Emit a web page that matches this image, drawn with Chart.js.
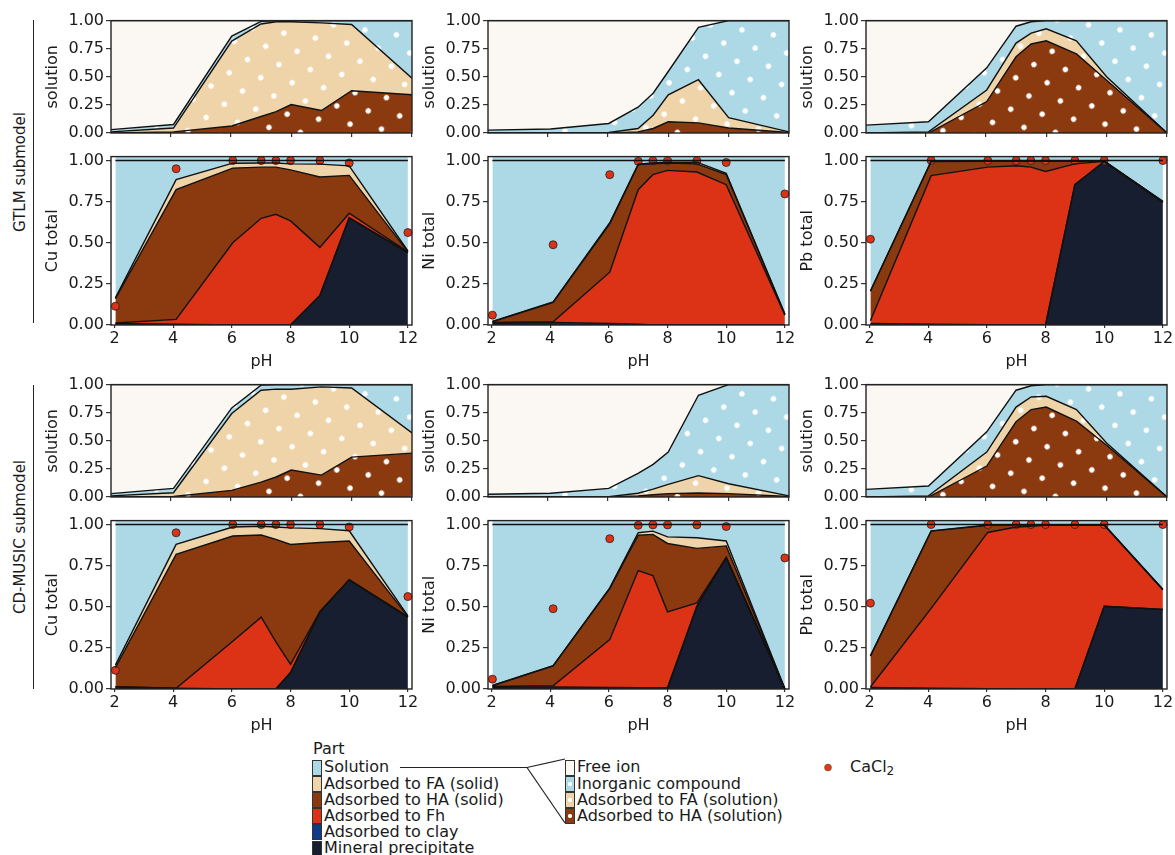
<!DOCTYPE html>
<html>
<head>
<meta charset="utf-8">
<script src="https://cdn.jsdelivr.net/npm/chart.js@4.4.1/dist/chart.umd.min.js"></script>
<style>
  body { margin: 0; background: #fff; width: 1175px; height: 855px; position: relative; overflow: hidden;
         font-family: 'DejaVu Sans', Verdana, sans-serif; color: #1a1a1a; }
  canvas { position: absolute; }
  .lab { position: absolute; font-size: 16px; line-height: 16.2px; white-space: nowrap; }
  .sw { position: absolute; width: 10px; height: 16px; box-sizing: border-box; border: 1px solid #333; }
  .row { position: absolute; font-size: 15px; white-space: nowrap; transform: translate(-50%, -50%) rotate(-90deg); }
  .vline { position: absolute; width: 1px; background: #222; }
</style>
</head>
<body>
<svg width="1175" height="855" style="position:absolute;left:0;top:0">
  <line x1="400" y1="767.5" x2="527" y2="767.5" stroke="#222" stroke-width="1.2"/>
  <line x1="527" y1="767.5" x2="565" y2="759" stroke="#222" stroke-width="1.2"/>
  <line x1="527" y1="767.5" x2="565" y2="823" stroke="#222" stroke-width="1.2"/>
  <circle cx="828" cy="767.5" r="3.5" fill="#dc3a1c" stroke="#552" stroke-width="0.5"/>
</svg>
<div class="row" style="left:20px;top:172px">GTLM submodel</div>
<div class="vline" style="left:33px;top:20px;height:303px"></div>
<div class="row" style="left:20px;top:537px">CD-MUSIC submodel</div>
<div class="vline" style="left:33px;top:385px;height:304px"></div>
<div class="lab" style="left:313px;top:741px">Part</div>
<div class="lab" style="left:850px;top:759px">CaCl<sub style="font-size:12px;vertical-align:-3px;line-height:0">2</sub></div>

<script>
// pH of the batch experiments
const pH = [2.03, 4.1, 6.03, 7, 7.5, 8, 9, 10, 12];
const xTicks = [2, 4, 6, 8, 10, 12];
const yTicks = [0, 0.25, 0.5, 0.75, 1];
const ones = [1, 1, 1, 1, 1, 1, 1, 1, 1];

// measured fraction (CaCl2 extraction)
const cuObs = [0.114, 0.95, 1.0, 1.0, 1.0, 1.0, 1.0, 0.985, 0.562];
const niObs = [0.06, 0.488, 0.914, 0.995, 0.998, 0.998, 0.998, 0.988, 0.797];
const pbObs = [0.522, 1.0, 1.0, 1.0, 1.0, 1.0, 1.0, 1.0, 1.0];

// GTLM, solution: upper edge of each part (HA, FA, inorganic; free ion up to 1)
const cuGtlmSolHA = [0, 0.01, 0.062, 0.147, 0.19, 0.253, 0.20, 0.376, 0.34];
const cuGtlmSolFA = [0.01, 0.044, 0.818, 0.97, 0.99, 0.99, 0.98, 0.965, 0.488];
const cuGtlmSolIn = [0.03, 0.076, 0.862, 0.993, 1, 1, 1, 1, 1];
const niGtlmSolHA = [0, 0, 0, 0.01, 0.04, 0.10, 0.09, 0.044, 0.005];
const niGtlmSolFA = [0, 0, 0.005, 0.04, 0.158, 0.34, 0.474, 0.137, 0.01];
const niGtlmSolIn = [0.026, 0.035, 0.085, 0.23, 0.354, 0.547, 0.94, 1, 1];
const pbGtlmSolHA = [0, 0, 0.28, 0.678, 0.792, 0.82, 0.704, 0.47, 0];
const pbGtlmSolFA = [0, 0.01, 0.383, 0.80, 0.889, 0.927, 0.82, 0.50, 0];
const pbGtlmSolIn = [0.07, 0.10, 0.58, 0.95, 0.99, 1, 1, 1, 1];

// GTLM, total: upper edge of each part (mineral, clay, Fh, HA, FA; solution up to 1)
const cuGtlmMin = [0, 0, 0, 0, 0, 0, 0.18, 0.652, 0.44];
const cuGtlmClay = [0.01, 0.005, 0, 0, 0, 0, 0.18, 0.652, 0.44];
const cuGtlmFh = [0.012, 0.034, 0.50, 0.649, 0.673, 0.633, 0.472, 0.68, 0.445];
const cuGtlmHA = [0.16, 0.823, 0.954, 0.96, 0.96, 0.943, 0.90, 0.91, 0.445];
const cuGtlmFA = [0.165, 0.884, 0.984, 0.985, 0.985, 0.98, 0.978, 0.968, 0.45];
const niGtlmMin = [0, 0, 0, 0, 0, 0, 0, 0, 0];
const niGtlmClay = [0.01, 0.015, 0.01, 0.005, 0, 0, 0, 0, 0];
const niGtlmFh = [0.015, 0.02, 0.321, 0.823, 0.914, 0.94, 0.93, 0.853, 0.06];
const niGtlmHA = [0.02, 0.137, 0.615, 0.975, 0.98, 0.985, 0.98, 0.915, 0.065];
const niGtlmFA = [0.022, 0.14, 0.622, 0.978, 0.985, 0.99, 0.99, 0.922, 0.067];
const pbGtlmMin = [0, 0, 0, 0, 0, 0, 0.853, 0.994, 0.747];
const pbGtlmClay = [0.01, 0.005, 0.002, 0, 0, 0, 0.853, 0.994, 0.747];
const pbGtlmFh = [0.026, 0.908, 0.96, 0.968, 0.96, 0.934, 0.98, 0.995, 0.748];
const pbGtlmHA = [0.205, 0.994, 0.996, 0.996, 0.996, 0.996, 0.996, 0.996, 0.75];
const pbGtlmFA = [0.207, 0.996, 0.998, 0.998, 0.998, 0.998, 0.998, 0.998, 0.752];

// CD-MUSIC, solution
const cuCdmSolHA = [0, 0.005, 0.059, 0.133, 0.178, 0.24, 0.195, 0.355, 0.39];
const cuCdmSolFA = [0.01, 0.038, 0.743, 0.95, 0.96, 0.958, 0.98, 0.97, 0.571];
const cuCdmSolIn = [0.03, 0.077, 0.793, 0.995, 1, 1, 1, 1, 1];
const niCdmSolHA = [0, 0, 0, 0.01, 0.02, 0.03, 0.035, 0.03, 0.005];
const niCdmSolFA = [0, 0, 0.003, 0.033, 0.07, 0.112, 0.19, 0.118, 0.01];
const niCdmSolIn = [0.024, 0.033, 0.077, 0.21, 0.29, 0.40, 0.905, 1, 1];
const pbCdmSolHA = [0, 0, 0.275, 0.669, 0.778, 0.80, 0.675, 0.46, 0];
const pbCdmSolFA = [0, 0.01, 0.40, 0.80, 0.89, 0.896, 0.778, 0.48, 0];
const pbCdmSolIn = [0.068, 0.098, 0.58, 0.95, 0.99, 1, 1, 1, 1];

// CD-MUSIC, total
const cuCdmMin = [0, 0, 0, 0, 0, 0.10, 0.469, 0.664, 0.437];
const cuCdmClay = [0.012, 0.005, 0, 0, 0, 0.10, 0.469, 0.664, 0.437];
const cuCdmFh = [0.014, 0.005, 0.29, 0.437, 0.286, 0.15, 0.47, 0.665, 0.44];
const cuCdmHA = [0.13, 0.819, 0.93, 0.936, 0.91, 0.879, 0.891, 0.90, 0.44];
const cuCdmFA = [0.145, 0.879, 0.985, 0.99, 0.985, 0.98, 0.975, 0.962, 0.445];
const niCdmMin = [0, 0, 0, 0, 0, 0, 0.503, 0.80, 0];
const niCdmClay = [0.01, 0.012, 0.01, 0.008, 0.008, 0.01, 0.503, 0.80, 0];
const niCdmFh = [0.015, 0.02, 0.30, 0.72, 0.69, 0.469, 0.523, 0.80, 0];
const niCdmHA = [0.02, 0.14, 0.61, 0.935, 0.94, 0.885, 0.855, 0.87, 0];
const niCdmFA = [0.022, 0.142, 0.615, 0.95, 0.96, 0.925, 0.92, 0.90, 0.002];
const pbCdmMin = [0, 0, 0, 0, 0, 0, 0, 0.503, 0.483];
const pbCdmClay = [0.01, 0.005, 0.002, 0, 0, 0, 0, 0.503, 0.483];
const pbCdmFh = [0.012, 0.49, 0.952, 0.985, 0.99, 0.995, 0.995, 0.995, 0.604];
const pbCdmHA = [0.20, 0.96, 0.995, 0.998, 0.998, 0.998, 0.998, 0.998, 0.604];
const pbCdmFA = [0.202, 0.962, 0.997, 0.999, 0.999, 0.999, 0.999, 0.999, 0.606];

const partNames = ['Solution', 'Adsorbed to FA (solid)', 'Adsorbed to HA (solid)', 'Adsorbed to Fh', 'Adsorbed to clay', 'Mineral precipitate'];
const solNames = ['Free ion', 'Inorganic compound', 'Adsorbed to FA (solution)', 'Adsorbed to HA (solution)'];

// colours
const cSol = '#add8e6', cFA = '#efd4a9', cHA = '#8b3a0f', cFh = '#dc3216', cClay = '#0c3b8c', cMin = '#161e2f', cFree = '#fbf8f3';

Chart.defaults.font.family = "'DejaVu Sans', Verdana, sans-serif";
Chart.defaults.font.size = 16;
Chart.defaults.color = '#1a1a1a';

function dotPattern(bg) {
  const t = document.createElement('canvas');
  t.width = 45; t.height = 45;
  const c = t.getContext('2d');
  c.fillStyle = bg; c.fillRect(0, 0, 45, 45);
  c.fillStyle = '#fff';
  [[11.25, 11.25], [33.75, 11.25], [11.25, 33.75], [33.75, 33.75]].forEach(([x, y]) => {
    c.beginPath(); c.arc(x, y, 2.7, 0, Math.PI * 2); c.fill();
  });
  const p = c.createPattern(t, 'repeat');
  p.setTransform(new DOMMatrix().rotate(-36));
  return p;
}
const pSol = dotPattern(cSol), pFA = dotPattern(cFA), pHA = dotPattern(cHA);

const framePlugin = {
  id: 'frame',
  afterDatasetsDraw(chart) {
    const { ctx, chartArea: a } = chart;
    ctx.save();
    ctx.strokeStyle = '#222';
    ctx.lineWidth = 1.4;
    ctx.strokeRect(a.left, a.top, a.right - a.left, a.bottom - a.top);
    ctx.restore();
  }
};

const layer = (data, colour, fill) => ({
  data: data.map((y, i) => ({ x: pH[i], y })),
  backgroundColor: colour, borderColor: '#111', borderWidth: 1.4,
  fill, pointRadius: 0, tension: 0
});

const colLeft = [111, 488, 866];
const rowShift = [0, 364];

function panel(col, row, kind, yTitle, datasets) {
  const sol = kind === 'sol';
  const L = colLeft[col];
  const top = (sol ? 19 : 155) + rowShift[row];
  const h = sol ? 114 : 170;
  const padL = 81, padT = 10, padR = 14, padB = sol ? 12 : 46;
  const cv = document.createElement('canvas');
  cv.width = padL + 301 + padR;
  cv.height = padT + h + padB;
  cv.style.left = (L - padL) + 'px';
  cv.style.top = (top - padT) + 'px';
  document.body.appendChild(cv);
  new Chart(cv, {
    type: 'line',
    data: { datasets },
    plugins: [framePlugin],
    options: {
      responsive: false, animation: false, devicePixelRatio: 1,
      layout: { padding: { left: 0, top: padT, right: padR, bottom: 0 } },
      plugins: { legend: { display: false }, tooltip: { enabled: false }, filler: { drawTime: 'beforeDatasetsDraw' } },
      scales: {
        x: {
          type: 'linear', min: sol ? pH[0] : 1.88, max: sol ? 12 : 12.14,
          afterBuildTicks: s => { s.ticks = xTicks.filter(v => v >= s.min && v <= s.max).map(v => ({ value: v })); },
          afterFit: s => { s.height = padB; },
          grid: { drawOnChartArea: false, drawTicks: true, tickLength: sol ? 4 : 3, color: '#333', lineWidth: 1.2 },
          border: { display: false },
          ticks: { display: !sol, padding: 1.5, autoSkip: false, maxRotation: 0 },
          title: { display: !sol, text: 'pH', padding: 0 }
        },
        y: {
          min: 0, max: sol ? 1 : 1.024,
          afterBuildTicks: s => { s.ticks = yTicks.map(v => ({ value: v })); },
          afterFit: s => { s.width = padL; },
          grid: { drawOnChartArea: false, drawTicks: true, tickLength: 5, color: '#333', lineWidth: 1.2 },
          border: { display: false },
          ticks: { padding: 2, callback: v => v.toFixed(2) },
          title: { display: true, text: yTitle, padding: { top: 13, bottom: 0 } }
        }
      }
    }
  });
}

function solPanel(col, row, ha, fa, inorg) {
  panel(col, row, 'sol', 'solution', [
    layer(ha, pHA, 'origin'),
    layer(fa, pFA, '-1'),
    layer(inorg, pSol, '-1'),
    layer(ones, cFree, '-1')
  ]);
}

function totPanel(col, row, yTitle, min, clay, fh, ha, fa, obs) {
  const cap = layer(ones, cSol, 'end');
  cap.borderWidth = 0;
  panel(col, row, 'tot', yTitle, [
    layer(min, cMin, 'origin'),
    layer(clay, cClay, '-1'),
    layer(fh, cFh, '-1'),
    layer(ha, cHA, '-1'),
    layer(fa, cFA, '-1'),
    layer(ones, cSol, '-1'),
    cap,
    {
      data: obs.map((y, i) => ({ x: pH[i], y })), showLine: false, clip: false,
      pointRadius: 4, pointBackgroundColor: cFh, pointBorderColor: '#222', pointBorderWidth: 0.8
    }
  ]);
}

solPanel(0, 0, cuGtlmSolHA, cuGtlmSolFA, cuGtlmSolIn);
solPanel(1, 0, niGtlmSolHA, niGtlmSolFA, niGtlmSolIn);
solPanel(2, 0, pbGtlmSolHA, pbGtlmSolFA, pbGtlmSolIn);
totPanel(0, 0, 'Cu total', cuGtlmMin, cuGtlmClay, cuGtlmFh, cuGtlmHA, cuGtlmFA, cuObs);
totPanel(1, 0, 'Ni total', niGtlmMin, niGtlmClay, niGtlmFh, niGtlmHA, niGtlmFA, niObs);
totPanel(2, 0, 'Pb total', pbGtlmMin, pbGtlmClay, pbGtlmFh, pbGtlmHA, pbGtlmFA, pbObs);

solPanel(0, 1, cuCdmSolHA, cuCdmSolFA, cuCdmSolIn);
solPanel(1, 1, niCdmSolHA, niCdmSolFA, niCdmSolIn);
solPanel(2, 1, pbCdmSolHA, pbCdmSolFA, pbCdmSolIn);
totPanel(0, 1, 'Cu total', cuCdmMin, cuCdmClay, cuCdmFh, cuCdmHA, cuCdmFA, cuObs);
totPanel(1, 1, 'Ni total', niCdmMin, niCdmClay, niCdmFh, niCdmHA, niCdmFA, niObs);
totPanel(2, 1, 'Pb total', pbCdmMin, pbCdmClay, pbCdmFh, pbCdmHA, pbCdmFA, pbObs);

// legend
const dot = c => `radial-gradient(circle at center, #fff 0, #fff 1.8px, transparent 2.4px), ${c}`;
const partSw = [cSol, cFA, cHA, cFh, cClay, cMin];
const solSw = [cFree, dot(cSol), dot(cFA), dot(cHA)];
function legendRow(x, i, text, bg) {
  const cy = 767.5 + 16.2 * i;
  const sw = document.createElement('div');
  sw.className = 'sw';
  sw.style.left = x + 'px';
  sw.style.top = (cy - 8) + 'px';
  sw.style.background = bg;
  document.body.appendChild(sw);
  const t = document.createElement('div');
  t.className = 'lab';
  t.style.left = (x + 12) + 'px';
  t.style.top = (cy - 8.1) + 'px';
  t.textContent = text;
  document.body.appendChild(t);
}
partNames.forEach((n, i) => legendRow(312, i, n, partSw[i]));
solNames.forEach((n, i) => legendRow(565, i, n, solSw[i]));
</script>
</body>
</html>
